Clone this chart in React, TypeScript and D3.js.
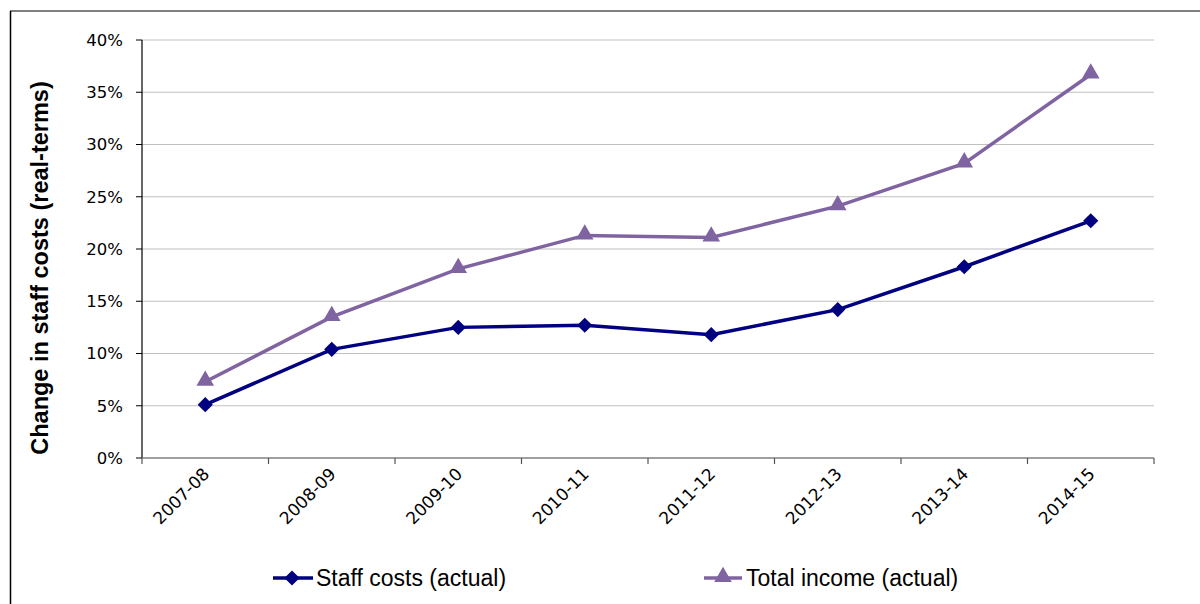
import React from "react";
import * as d3 from "d3";

const categories = ["2007-08", "2008-09", "2009-10", "2010-11", "2011-12", "2012-13", "2013-14", "2014-15"];
const staffCosts = [5.1, 10.4, 12.5, 12.7, 11.8, 14.2, 18.3, 22.7];
const totalIncome = [7.3, 13.5, 18.1, 21.3, 21.1, 24.1, 28.2, 36.7];
const yTicks = [0, 5, 10, 15, 20, 25, 30, 35, 40];
const seriesNames = ["Staff costs (actual)", "Total income (actual)"];

const W = 1200, H = 604;
const left = 142, right = 1154, top = 40, bottom = 458;
const STAFF = "#000080";
const INCOME = "#8064A2";

export default function App() {
  const x = d3.scaleBand<string>().domain(categories).range([left, right]);
  const y = d3.scaleLinear().domain([0, 40]).range([bottom, top]);
  const cx = (c: string) => (x(c) as number) + x.bandwidth() / 2;
  const line = d3.line<number>().x((_, i) => cx(categories[i])).y((v) => y(v));
  const tri = d3.symbol().type(d3.symbolTriangle).size(135)();
  const dia = d3.symbol().type(d3.symbolSquare).size(115)();
  const boundaries = d3.range(categories.length + 1).map((i) => left + i * x.bandwidth());
  const tickFont = "Tahoma, 'DejaVu Sans', Verdana, sans-serif";
  const legFont = "'Liberation Sans Narrow', Arial, 'Liberation Sans', sans-serif";

  return (
    <svg width={W} height={H} style={{ position: "absolute", left: 0, top: 0, background: "#fff" }}>
      <rect x={0} y={0} width={W} height={H} fill="#fff" />
      <line x1={10} y1={11} x2={W} y2={11} stroke="#555" strokeWidth={1.5} />
      <line x1={10.5} y1={11} x2={10.5} y2={H} stroke="#000" strokeWidth={1.5} />
      {yTicks.filter((t) => t > 0).map((t) => (
        <line key={t} x1={left} x2={right} y1={y(t)} y2={y(t)} stroke="#c0c0c0" strokeWidth={1.2} />
      ))}
      {yTicks.map((t) => (
        <g key={"yt" + t}>
          <line x1={left - 6} x2={left} y1={y(t)} y2={y(t)} stroke="#000" strokeWidth={1} />
          <text x={left - 19} y={y(t)} dy="0.35em" textAnchor="end" fontFamily={tickFont} fontSize={16.5} fill="#000">
            {t + "%"}
          </text>
        </g>
      ))}
      <line x1={left} x2={left} y1={top} y2={bottom} stroke="#000" strokeWidth={1.2} />
      <line x1={left} x2={right} y1={bottom} y2={bottom} stroke="#808080" strokeWidth={1.5} />
      {boundaries.map((b, i) => (
        <line key={"xt" + i} x1={b} x2={b} y1={bottom} y2={bottom + 6} stroke="#555" strokeWidth={1.2} />
      ))}
      {categories.map((c) => (
        <text key={c} transform={`translate(${cx(c) + 1},${bottom + 13}) rotate(-45)`} textAnchor="end" dy="0.35em"
          fontFamily={tickFont} fontSize={17} fill="#000">
          {c}
        </text>
      ))}
      <text transform={`translate(48,268) rotate(-90)`} textAnchor="middle"
        fontFamily="Arial, 'Liberation Sans', sans-serif" fontWeight="bold" fontSize={23.5} fill="#000">
        Change in staff costs (real-terms)
      </text>
      <path d={line(totalIncome) || ""} fill="none" stroke={INCOME} strokeWidth={3.5} />
      <path d={line(staffCosts) || ""} fill="none" stroke={STAFF} strokeWidth={3.5} />
      {totalIncome.map((v, i) => (
        <path key={"i" + i} d={tri || ""} transform={`translate(${cx(categories[i])},${y(v) - 1})`} fill={INCOME} />
      ))}
      {staffCosts.map((v, i) => (
        <path key={"s" + i} d={dia || ""} transform={`translate(${cx(categories[i])},${y(v)}) rotate(45)`} fill={STAFF} />
      ))}
      <g>
        <line x1={273} x2={313} y1={578} y2={578} stroke={STAFF} strokeWidth={3.5} />
        <path d={dia || ""} transform="translate(292,578) rotate(45)" fill={STAFF} />
        <text x={316} y={578} dy="0.36em" fontFamily={legFont} fontSize={23} fill="#000">
          {seriesNames[0]}
        </text>
        <line x1={704} x2={742} y1={578} y2={578} stroke={INCOME} strokeWidth={3.5} />
        <path d={tri || ""} transform="translate(723,577)" fill={INCOME} />
        <text x={746} y={578} dy="0.36em" fontFamily={legFont} fontSize={23} fill="#000">
          {seriesNames[1]}
        </text>
      </g>
    </svg>
  );
}
